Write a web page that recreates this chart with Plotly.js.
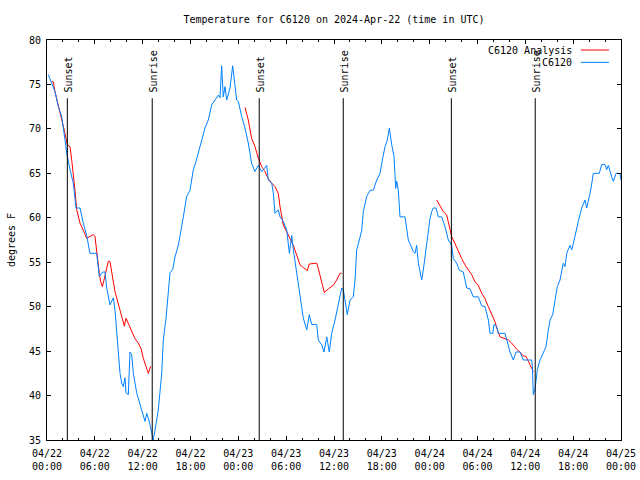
<!DOCTYPE html>
<html>
<head>
<meta charset="utf-8">
<script src="https://cdn.plot.ly/plotly-3.0.1.min.js"></script>
<style>html,body{margin:0;padding:0;background:#fff;}#chart{width:640px;height:480px;}</style>
</head>
<body>
<div id="chart"></div>
<script>
// Hours since 2024-04-22 00:00 UTC
const obsHours = [0.16,0.59,1.0,1.42,1.84,2.26,2.47,2.89,3.30,3.64,4.14,4.55,4.77,4.98,5.39,6.23,6.56,6.99,7.28,7.49,7.90,8.32,8.53,8.74,8.94,9.16,9.37,9.57,9.78,9.91,10.2,10.41,10.62,10.83,11.25,11.67,12.08,12.29,12.51,12.83,13.13,13.33,13.55,13.96,14.39,14.59,14.93,15.22,15.43,15.77,16.06,16.47,16.90,17.1,17.52,17.94,18.35,18.65,19.19,19.82,20.23,20.66,21.07,21.49,21.7,21.91,22.11,22.33,22.54,22.96,23.29,23.58,23.79,24.0,24.42,24.84,25.25,25.67,26.09,26.51,26.93,27.13,27.56,27.76,28.19,28.39,28.6,29.01,29.23,29.64,30.07,30.4,30.7,30.9,31.32,31.74,32.15,32.58,32.9,33.2,33.83,34.03,34.46,34.75,35.09,35.41,35.71,36.13,36.54,36.97,37.17,37.38,37.67,38.01,38.42,38.64,38.85,39.18,39.48,39.68,40.1,40.52,40.93,41.36,41.77,42.11,42.4,42.69,42.94,43.24,43.53,43.74,43.87,44.07,44.28,44.91,45.12,45.32,45.53,45.95,46.16,46.37,46.58,46.79,47.0,47.2,47.42,47.63,47.83,48.04,48.26,48.46,48.8,49.08,49.51,49.92,50.34,50.76,50.97,51.39,51.72,52.22,52.65,53.06,53.48,54.1,54.53,54.94,55.36,55.57,55.91,56.07,56.41,56.61,57.45,57.74,58.08,58.49,58.83,59.33,59.75,60.8,60.88,61.0,61.21,61.34,61.5,61.84,62.26,62.6,62.89,63.1,63.43,63.72,64.01,64.35,64.76,64.98,65.19,65.6,65.82,66.02,66.23,66.65,67.07,67.49,67.7,68.2,68.53,69.28,69.58,69.99,70.2,70.41,70.83,71.04,71.38,71.88,72.0];
const obsTemp = [76.1,75.1,74.2,72.5,71.4,68.75,67.3,65.4,63.9,61.1,61.1,59.4,58.6,58,56,56,53.4,53.9,53.9,52.1,50.2,51,49.6,47.4,44.4,42.5,41.4,41,42,40.3,40.1,44.9,44.6,42.5,40.3,39.1,37.8,37.1,38,37.1,35.8,35,36.1,38.4,42.5,46.25,48.7,52.1,53.8,54.2,55.6,56.9,58.8,60.1,62.4,63.1,65.4,66.2,68,70.1,71,72.7,73.25,73.8,73.5,77.1,73.6,74.75,73.25,74.6,77.1,74.6,73.25,73.1,71.4,70.1,68.4,66.1,65.2,65.9,65.2,65.4,65.9,64.25,63.9,62.75,60.5,60.9,60.1,59.6,58.6,56,58,56.4,53.8,50.75,48.7,47.4,49.1,48,48,46.25,45.7,44.9,46.6,44.9,47,48.5,50.4,52.1,51.9,50.6,49.1,50.75,51.1,53,56.4,57.5,58.6,60.7,62.4,63.1,63.1,64.25,65,66.7,68,68.75,70.1,68.2,66.9,63.3,64.1,63.1,60.1,60.1,58.6,57.5,57.1,56.2,56,56.9,54.9,53.75,53,54.1,55.6,57.5,58.6,59.9,60.7,61.1,61.1,60.1,60.1,59,57.5,56.9,55.4,54.9,54.1,53.9,52.1,52,51.1,51.1,50.1,50,48.5,47,47,48,47.75,47,47,46.1,44.9,44,44.9,44.9,44,44,43.4,40.1,40.8,41.6,42.9,44,44.9,45.5,47.4,48.5,49.1,50.6,52.25,53,54.9,54.5,56,56.9,56.4,57.1,58,59.6,61.1,62,61.1,63.1,65,65,66,66,65.4,65.9,64.6,64.1,65,65,64.25];

// Analysis series, null separates the three runs
const anaHours = [0.59,0.79,1.0,1.42,1.84,2.26,2.55,2.89,3.1,3.3,3.51,3.73,4.14,4.55,4.98,5.39,5.81,6.02,6.15,6.31,6.56,6.74,6.94,7.15,7.4,7.69,7.9,8.12,8.32,8.53,8.82,9.16,9.5,9.7,9.91,10.2,10.62,11.04,11.45,11.79,12.08,12.42,12.71,13.01,
  null,
  24.84,25.25,25.67,26.09,26.51,26.93,27.35,27.76,28.19,28.6,29.01,29.23,29.64,30.07,30.48,30.9,31.32,31.74,32.15,32.65,32.9,33.83,34.03,34.46,34.78,35.29,35.91,36.34,36.75,36.97,
  null,
  48.88,49.3,49.71,50.14,50.55,50.76,51.17,51.59,52.02,52.43,52.85,53.27,53.69,54.1,54.53,54.94,55.36,55.78,56.2,56.49,56.82,57.45,57.87,58.29,58.92,59.33,59.75,60.09,60.38,60.71,61.0];
const anaTemp = [75.3,75.3,74.2,72.7,71.2,69.5,68.2,68,66.5,65,63.1,60.9,59.4,58.6,57.7,57.9,58.1,57.9,56.75,55.25,53.75,52.8,52.25,53,53.9,55.1,55.1,54.1,52.8,51.7,50.75,49.6,48.5,47.8,48.7,48.1,47.2,46.4,45.9,45.3,44.2,43.25,42.5,43.3,
  null,
  72.4,71,68.9,68,66.7,65.75,65.2,64.4,63.9,63.5,62.75,61.25,59.2,58.4,57.7,56.9,55.8,54.7,54.4,54.05,54.8,54.9,54.3,52.6,51.6,52,52.4,53,53.75,53.75,
  null,
  62,61.4,60.7,60.3,58.6,57.9,57.1,56.2,55.4,54.7,54.1,53.6,52.8,52.4,51.5,50.9,50,49.1,48.3,47.4,46.6,46.4,46.25,45.9,45.2,44.9,44.45,44.4,43.8,43.1,42.7];

const sunHours = [2.55, 13.2, 26.62, 37.16, 50.72, 61.24];
const sunLabels = ["Sunset", "Sunrise", "Sunset", "Sunrise", "Sunset", "Sunrise"];
const sunLineTop = 73.45;

const tickHours = [0,6,12,18,24,30,36,42,48,54,60,66,72];
const tickLabels = ["04/22<br>00:00","04/22<br>06:00","04/22<br>12:00","04/22<br>18:00","04/23<br>00:00","04/23<br>06:00","04/23<br>12:00","04/23<br>18:00","04/24<br>00:00","04/24<br>06:00","04/24<br>12:00","04/24<br>18:00","04/25<br>00:00"];

const seriesNames = ["C6120 Analysis", "C6120"];
const seriesColors = ["#ff0000", "#0080ff"];

const FONT = "DejaVu Sans Mono, monospace";

const traces = [
  {x: anaHours, y: anaTemp, type: 'scatter', mode: 'lines', name: seriesNames[0],
   line: {color: seriesColors[0], width: 1}, connectgaps: false, showlegend: false},
  {x: obsHours, y: obsTemp, type: 'scatter', mode: 'lines', name: seriesNames[1],
   line: {color: seriesColors[1], width: 1}, showlegend: false}
];

const shapes = sunHours.map(h => ({
  type: 'line', xref: 'x', yref: 'y', x0: h, x1: h, y0: 35, y1: sunLineTop,
  line: {color: 'black', width: 1}
}));
const annotations = sunHours.map((h, i) => ({
  x: h, y: sunLineTop, xref: 'x', yref: 'y', text: sunLabels[i], textangle: -90,
  showarrow: false, xanchor: 'center', yanchor: 'bottom', yshift: 4, xshift: 1,
  font: {family: FONT, size: 10, color: 'black'}
}));

// gnuplot-style legend: text on the left, line sample on the right
const legY = [0.975, 0.944];
seriesNames.forEach((n, i) => {
  annotations.push({x: 0.918, y: legY[i], xref: 'paper', yref: 'paper', text: n,
    showarrow: false, xanchor: 'right', yanchor: 'middle',
    font: {family: FONT, size: 10, color: 'black'}});
  shapes.push({type: 'line', xref: 'paper', yref: 'paper', x0: 0.930, x1: 0.979,
    y0: legY[i], y1: legY[i], line: {color: seriesColors[i], width: 1}});
});

const layout = {
  width: 640, height: 480,
  margin: {l: 47, r: 19, t: 40, b: 40, pad: 0},
  paper_bgcolor: 'white', plot_bgcolor: 'white',
  font: {family: FONT, size: 10, color: 'black'},
  title: {text: 'Temperature for C6120 on 2024-Apr-22 (time in UTC)',
    font: {family: FONT, size: 10, color: 'black'},
    xref: 'paper', x: 0.5, xanchor: 'center', yref: 'container', y: 0.96, yanchor: 'middle'},
  showlegend: false,
  xaxis: {range: [0, 72], tickmode: 'array', tickvals: tickHours, ticktext: tickLabels,
    ticks: 'inside', ticklen: 4, tickcolor: 'black', tickwidth: 1, ticklabelstandoff: 4,
    minor: {dtick: 2, tick0: 0, ticks: 'inside', ticklen: 2, tickcolor: 'black', showgrid: false},
    showline: true, linecolor: 'black', linewidth: 1, mirror: 'ticks',
    showgrid: false, zeroline: false, fixedrange: true,
    tickfont: {family: FONT, size: 10, color: 'black'}},
  yaxis: {range: [35, 80], tickmode: 'linear', tick0: 35, dtick: 5,
    ticks: 'inside', ticklen: 4, tickcolor: 'black', tickwidth: 1, ticklabelstandoff: 3,
    showline: true, linecolor: 'black', linewidth: 1, mirror: 'ticks',
    showgrid: false, zeroline: false, fixedrange: true,
    title: {text: 'degrees F', font: {family: FONT, size: 10, color: 'black'}, standoff: 11},
    tickfont: {family: FONT, size: 10, color: 'black'}},
  shapes: shapes,
  annotations: annotations
};

Plotly.newPlot('chart', traces, layout, {staticPlot: true, displayModeBar: false});
</script>
</body>
</html>
